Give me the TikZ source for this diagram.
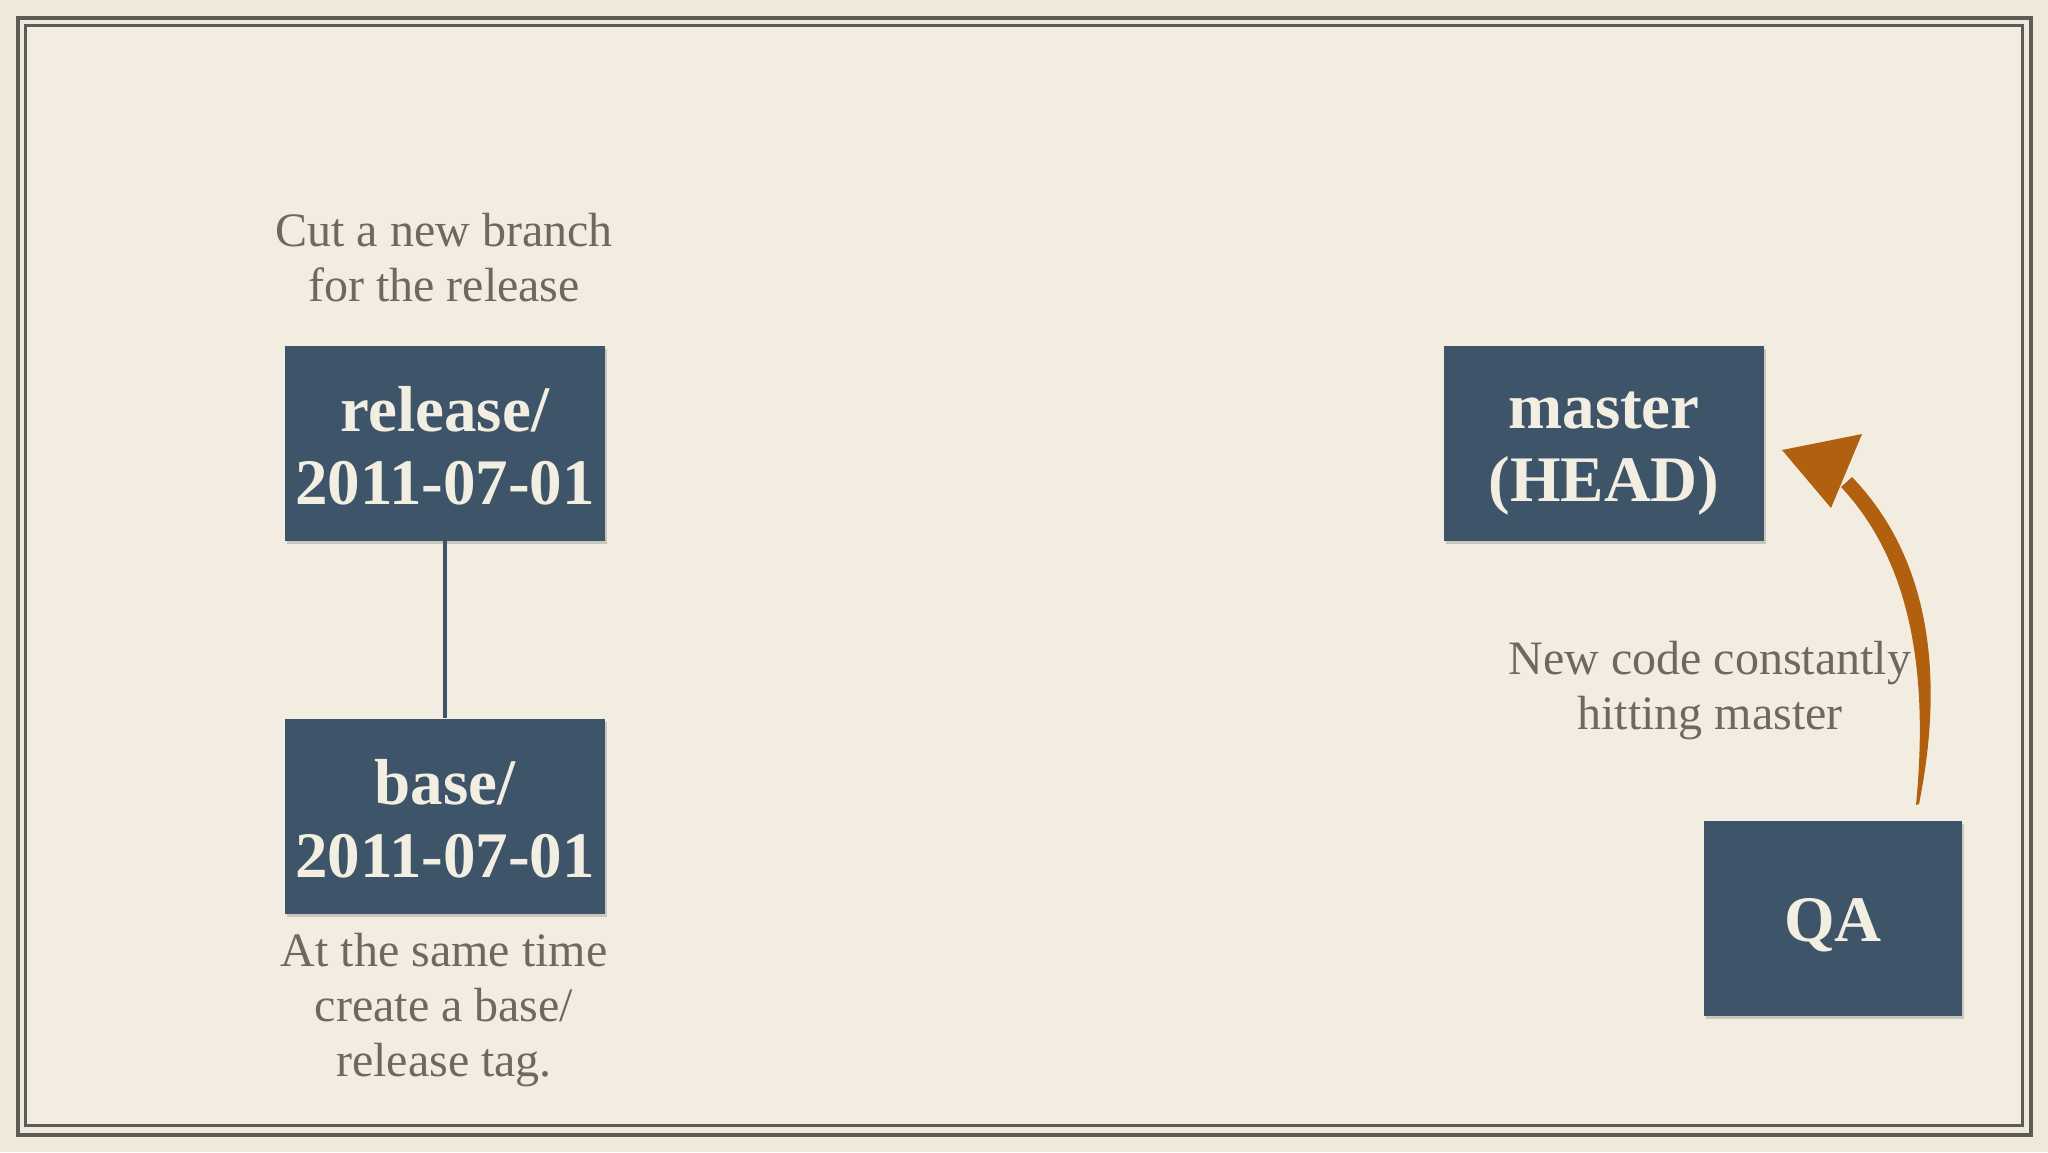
\documentclass[tikz,border=0pt]{standalone}
\usepackage{fontspec}
\setmainfont{Liberation Serif}
\definecolor{bg}{HTML}{F3EDE1}
\definecolor{bgout}{HTML}{EFE9DC}
\definecolor{frame}{HTML}{5E5A55}
\definecolor{boxc}{HTML}{3E5468}
\definecolor{boxtext}{HTML}{F3EEE2}
\definecolor{note}{HTML}{6E6862}
\definecolor{arrowc}{HTML}{B0600F}
\newcommand\bstrut{\rule[-9pt]{0pt}{67pt}}
\tikzset{
  refbox/.style={fill=boxc, minimum width=320pt, minimum height=195pt, inner sep=0pt,
    text=boxtext, align=center, font=\fontsize{65}{73}\selectfont\bfseries},
  notetext/.style={text=note, align=center, font=\fontsize{48}{55}\selectfont, inner sep=0pt},
  shadowed/.style={preaction={fill=black, opacity=0.16, transform canvas={shift={(2pt,-3pt)}}}}
}
\begin{document}
\begin{tikzpicture}[x=1pt,y=-1pt]
\useasboundingbox (0,0) rectangle (2048,1152);
\fill[bgout] (0,0) rectangle (2048,1152);
\fill[bg] (26,25) rectangle (2022,1125);
% frame
\draw[frame, line width=4pt] (17.5,17.5) rectangle (2030.5,1134.5);
\draw[frame, line width=3pt] (25.5,25) rectangle (2022.5,1125.5);
% boxes
\node[refbox, shadowed] (release) at (445,443) {\bstrut release/\\\bstrut 2011-07-01};
\node[refbox, shadowed] (base) at (445,816) {\bstrut base/\\\bstrut 2011-07-01};
\node[refbox, shadowed] (master) at (1604,443) {\bstrut master\\\bstrut (HEAD)};
\node[refbox, shadowed, minimum width=258pt] (qa) at (1833,918) {\bstrut QA};
% connector
\draw[boxc, line width=4pt] (release.south) -- (base.north);
% notes
\node[notetext] (cut) at (444,258) {Cut a new branch\\for the release};
\node[notetext] (same) at (444,1010) {At the same time\\create a base/\\release tag.};
\node[notetext] (newcode) at (1710,691) {New code constantly\\hitting master};
% hand drawn arrow
\coordinate (astart) at (1919,804);
\coordinate (atip) at (1782,450);
\fill[arrowc] (1916,805) .. controls (1928,680) and (1914,565) .. (1841,487)
  -- (1852,477) .. controls (1932,560) and (1944,680) .. (astart) -- cycle;
\fill[arrowc] (atip) -- (1862,434) -- (1831,508) -- cycle;
\end{tikzpicture}
\end{document}
